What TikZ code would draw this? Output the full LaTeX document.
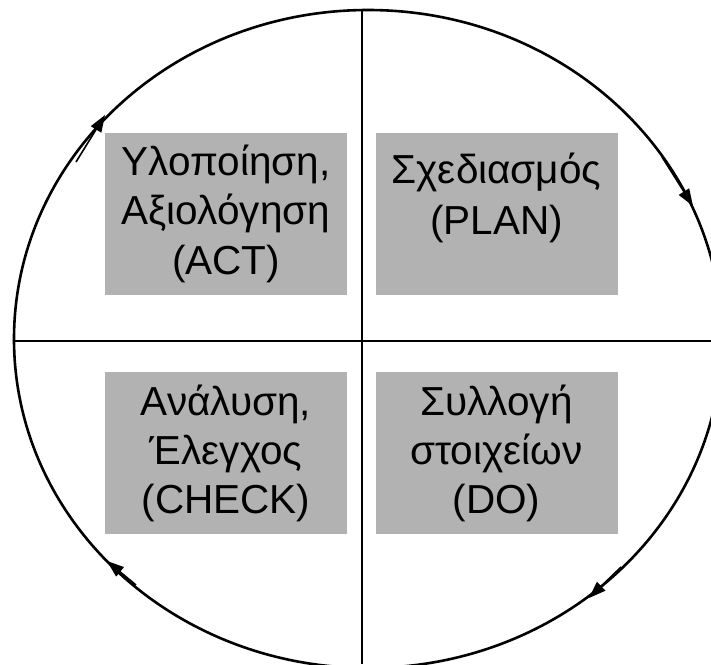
\documentclass[tikz,border=0pt]{standalone}
\usepackage{fontspec}
\setmainfont{Liberation Sans}
\usetikzlibrary{arrows.meta}
\definecolor{boxgray}{RGB}{178,178,178}
\tikzset{
  quad/.style={rectangle, fill=boxgray, draw=none, minimum width=242pt, minimum height=162pt, inner sep=0pt},
  txt/.style={anchor=base, inner sep=0pt, font=\fontsize{40.5}{49}\selectfont},
  axis/.style={line width=2.6pt, black},
  rim/.style={line width=2.6pt, black},
  cyc/.style={line width=1.6pt, -{Triangle[length=17pt,width=12pt]}}
}
\begin{document}
\begin{tikzpicture}[x=1pt,y=-1pt]
\useasboundingbox (0,0) rectangle (711,664);
\clip (0,0) rectangle (711,664);
\fill[white] (0,0) rectangle (711,664);
% quadrant boxes
\node[quad] (act) at (226,214) {};
\node[quad] (plan) at (496.5,214) {};
\node[quad] (check) at (226,452.5) {};
\node[quad] (do) at (496.5,452.5) {};
% texts
\node[txt] (t1) at (226,175) {Υλοποίηση,};
\node[txt] (t2) at (226,224) {Αξιολόγηση};
\node[txt] (t3) at (226,274) {(ACT)};
\node[txt] (t4) at (496.5,183) {Σχεδιασμός};
\node[txt] (t5) at (496.5,234) {(PLAN)};
\node[txt] (t6) at (226,415) {Ανάλυση,};
\node[txt] (t7) at (226,464) {Έλεγχος};
\node[txt] (t8) at (226,513) {(CHECK)};
\node[txt] (t9) at (496.5,415) {Συλλογή};
\node[txt] (t10) at (496.5,464) {στοιχείων};
\node[txt] (t11) at (496.5,513) {(DO)};
% circle and axes
\draw[rim] (368,339) ellipse [x radius=354, y radius=329];
\coordinate (vtop) at (362,10);
\coordinate (vbot) at (362,664);
\coordinate (hl) at (14,341);
\coordinate (hr) at (711,341);
\draw[axis] (vtop) -- (vbot);
\draw[axis] (hl) -- (hr);
% cycle arrows
\coordinate (a1s) at (76,162);  \coordinate (a1e) at (105,115);
\coordinate (a2s) at (662,157); \coordinate (a2e) at (693,206);
\coordinate (a3s) at (621,567); \coordinate (a3e) at (589,598);
\coordinate (a4s) at (136,585); \coordinate (a4e) at (107,561);
\draw[cyc] (a1s) -- (a1e);
\draw[cyc] (a2s) -- (a2e);
\draw[cyc] (a3s) -- (a3e);
\draw[cyc] (a4s) -- (a4e);
\end{tikzpicture}
\end{document}
